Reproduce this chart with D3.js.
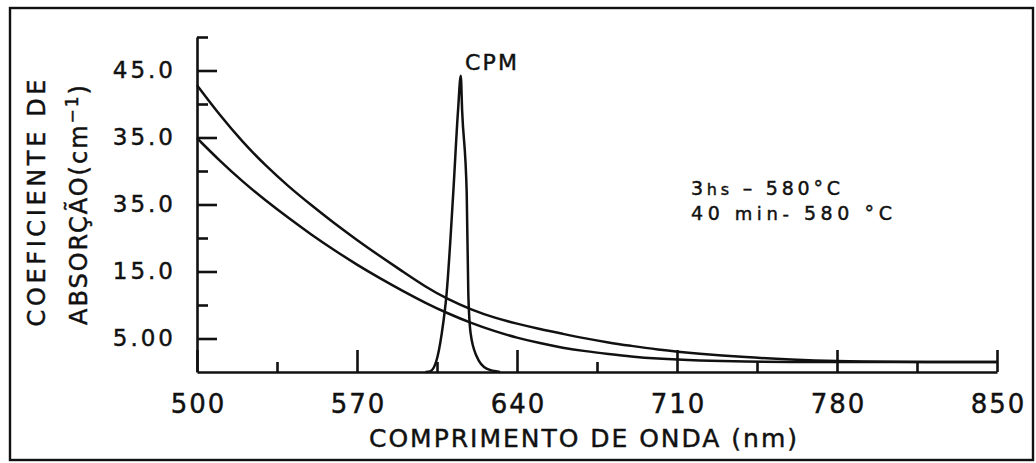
<!DOCTYPE html>
<html>
  <head>
    <meta charset="utf-8" />
    <title>Coeficiente de absorção x comprimento de onda</title>
    <script src="https://cdn.jsdelivr.net/npm/d3@7"></script>
    <style>
      body { margin: 0; background: #fff; }
      svg { display: block; font-family: 'DejaVu Sans', sans-serif; }
      .axis .domain, .axis line { stroke: #111; stroke-width: 2.6; }
      .axis text { fill: #111; }
      text { stroke: #111; stroke-width: 0.45; }
    </style>
  </head>
  <body>
    <svg id="chart"></svg>
    <script>
      // values
      const waveTicks = [500, 570, 640, 710, 780, 850]
      const waveMinorTicks = [535, 605, 675, 745, 815]
      const absTicks = [5, 15, 25, 35, 45]
      const absTickLabels = ["5.00", "15.0", "35.0", "35.0", "45.0"]
      const absMinorTicks = [10, 20, 30, 40, 50]

      const curveWavelengths = [500, 510, 520, 530, 540, 550, 560, 570, 580, 590, 600, 610, 620, 630, 640, 650, 660, 670, 680, 690, 700, 720, 740, 760, 780, 800, 850]
      const abs3hs = [42.8, 38.3, 34.3, 30.8, 27.7, 24.9, 22.2, 19.7, 17.3, 15.0, 12.7, 10.8, 9.3, 8.1, 7.2, 6.4, 5.7, 5.0, 4.4, 3.9, 3.4, 2.7, 2.2, 1.85, 1.6, 1.5, 1.5]
      const abs40min = [34.9, 31.5, 28.4, 25.6, 23.0, 20.5, 18.2, 16.0, 14.0, 12.1, 10.3, 8.7, 7.3, 6.1, 5.1, 4.3, 3.6, 3.1, 2.7, 2.3, 2.0, 1.7, 1.55, 1.5, 1.5, 1.5, 1.5]

      const cpmWavelengths = [600, 602, 604.6, 607.1, 609.2, 612.1, 614.2, 615.4, 616.0, 618.0, 618.7, 619.7, 622.4, 626.7, 632.6]
      const cpmValues = [0, 0.1, 1.5, 5.8, 11.7, 26.7, 39, 44.2, 39, 26.7, 11.7, 5.8, 2.3, 0.5, 0]

      const width = 1036
      const height = 463
      const plot = {left: 197, right: 997, top: 37, bottom: 372}

      const svg = d3.select("#chart")
        .attr("width", width)
        .attr("height", height)

      // frame of the scanned figure
      svg.append("rect")
        .attr("x", 10).attr("y", 8)
        .attr("width", 1023).attr("height", 452)
        .attr("fill", "none")
        .attr("stroke", "#111")
        .attr("stroke-width", 2.4)

      const x = d3.scaleLinear().domain([500, 850]).range([plot.left, plot.right])
      const y = d3.scaleLinear().domain([0, 50]).range([plot.bottom, plot.top])

      // minor ticks first, so the main axes sit on top
      svg.append("g")
        .attr("class", "axis")
        .attr("transform", `translate(0,${plot.bottom})`)
        .call(d3.axisBottom(x).tickValues(waveMinorTicks).tickSize(-10).tickFormat(""))
        .call(g => g.select(".domain").remove())

      svg.append("g")
        .attr("class", "axis")
        .attr("transform", `translate(${plot.left},0)`)
        .call(d3.axisLeft(y).tickValues(absMinorTicks).tickSize(-11).tickFormat(""))
        .call(g => g.select(".domain").remove())

      const xAxis = svg.append("g")
        .attr("class", "axis")
        .attr("transform", `translate(0,${plot.bottom})`)
        .call(d3.axisBottom(x).tickValues(waveTicks).tickSize(-22).tickSizeOuter(0).tickPadding(23).tickFormat(d3.format("d")))
      xAxis.selectAll("text")
        .attr("font-size", 26)
        .attr("font-family", "'DejaVu Sans', sans-serif")
        .attr("letter-spacing", 2)
        .attr("dx", 1)

      const yAxis = svg.append("g")
        .attr("class", "axis")
        .attr("transform", `translate(${plot.left},0)`)
        .call(d3.axisLeft(y).tickValues(absTicks).tickSize(-20).tickSizeOuter(0).tickPadding(21).tickFormat((d, i) => absTickLabels[i]))
      yAxis.selectAll("text")
        .attr("font-size", 23)
        .attr("font-family", "'DejaVu Sans', sans-serif")
        .attr("letter-spacing", 3)

      const smoothLine = d3.line()
        .x(d => x(d[0]))
        .y(d => y(d[1]))
        .curve(d3.curveBasis)

      const peakLine = d3.line()
        .x(d => x(d[0]))
        .y(d => y(d[1]))
        .curve(d3.curveMonotoneX)

      const absorption = [
        d3.zip(curveWavelengths, abs3hs),
        d3.zip(curveWavelengths, abs40min)
      ]

      svg.append("g")
        .selectAll("path")
        .data(absorption)
        .join("path")
          .attr("d", smoothLine)
          .attr("fill", "none")
          .attr("stroke", "#111")
          .attr("stroke-width", 2.5)

      svg.append("path")
        .datum(d3.zip(cpmWavelengths, cpmValues))
        .attr("d", peakLine)
        .attr("fill", "none")
        .attr("stroke", "#111")
        .attr("stroke-width", 2.5)
        .attr("stroke-linejoin", "round")

      // labels
      svg.append("text")
        .attr("x", 465).attr("y", 70)
        .attr("font-size", 22)
        .attr("textLength", 52)
        .attr("fill", "#111")
        .text("CPM")

      const legend = svg.append("g").attr("fill", "#111")
      const l1 = legend.append("text")
        .attr("x", 691).attr("y", 195)
        .attr("font-size", 19)
        .attr("textLength", 149)
      l1.append("tspan").text("3")
      l1.append("tspan").attr("font-size", 16).text("hs")
      l1.append("tspan").text(" – 580°C")

      const l2 = legend.append("text")
        .attr("x", 691).attr("y", 220)
        .attr("font-size", 19)
        .attr("textLength", 201)
      l2.append("tspan").text("40")
      l2.append("tspan").attr("font-size", 18).text(" min- ")
      l2.append("tspan").text("580 °C")

      svg.append("text")
        .attr("x", 369).attr("y", 447)
        .attr("font-size", 25)
        .attr("textLength", 428)
        .attr("fill", "#111")
        .text("COMPRIMENTO DE ONDA (nm)")

      svg.append("text")
        .attr("transform", "translate(45,203) rotate(-90)")
        .attr("text-anchor", "middle")
        .attr("font-size", 24)
        .attr("textLength", 247)
        .attr("fill", "#111")
        .text("COEFICIENTE DE")

      const yTitle2 = svg.append("text")
        .attr("transform", "translate(87,205) rotate(-90)")
        .attr("text-anchor", "middle")
        .attr("font-size", 24)
        .attr("textLength", 240)
        .attr("fill", "#111")
      yTitle2.append("tspan").text("ABSORÇÃO(cm")
      yTitle2.append("tspan").attr("font-size", 17).attr("dy", -9).text("−1")
      yTitle2.append("tspan").attr("dy", 9).text(")")
    </script>
  </body>
</html>
